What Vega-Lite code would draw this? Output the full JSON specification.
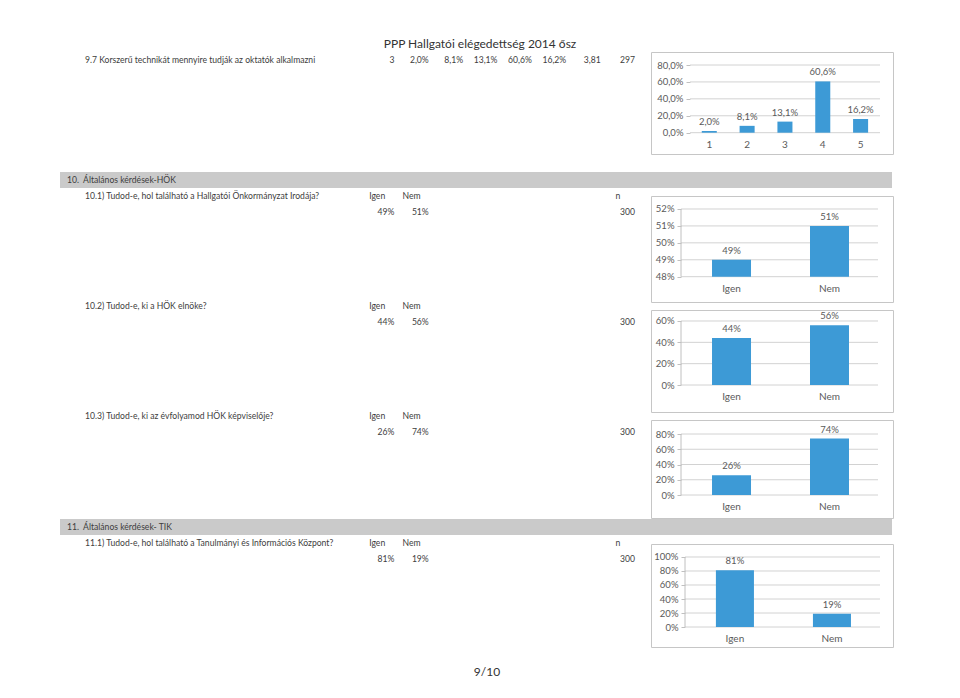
{
"$schema": "https://vega.github.io/schema/vega-lite/v6.json",
"background": "white",
"padding": {"left": 60, "top": 0, "right": 0, "bottom": 0},
"spacing": 0,
"resolve": {"scale": {"x": "independent", "y": "independent"}},
"config": {
  "view": {"stroke": null},
  "text": {"font": "Lato", "fontSize": 8.6, "color": "#3d3d3d"},
  "axis": {"labelFont": "Lato", "labelFontSize": 9.5, "labelColor": "#5a5a5a", "titleFont": "Lato"},
  "locale": {"number": {"decimal": ",", "thousands": "\u00a0", "grouping": [3], "currency": ["", "\u00a0Ft"]}}
},
"vconcat": [
  {"width": 832, "height": 51, "view": {"stroke": null},
   "data": {"values": [{"label": "PPP Hallgatói elégedettség 2014 ősz"}]},
   "mark": {"type": "text", "fontSize": 12, "color": "#333333", "dx": 4, "dy": 18.5},
   "encoding": {"text": {"field": "label"}}},
  {"hconcat": [
    {"width": 590, "height": 32, "view": {"stroke": null},
     "layer": [
      {"data": {"values": [{"line": "top", "col": "k0", "text": "9.7 Korszerű technikát mennyire tudják az oktatók alkalmazni"}]},
       "mark": {"type": "text", "align": "left"},
       "encoding": {
        "x": {"field": "col", "type": "nominal", "bandPosition": 0, "scale": {"type": "band", "domain": ["k0","k1","k2","k3","k4","k5","k6","k7","k8","k9","k10","k11","k12","k13","k14","k15"], "paddingInner": 0, "paddingOuter": 0.582, "align": 0.625}, "axis": null},
        "y": {"field": "line", "type": "nominal", "scale": {"type": "point", "domain": ["top", "bottom"], "padding": 0.5}, "axis": null},
        "text": {"field": "text"}}},
      {"data": {"values": [
        {"line": "top", "col": "k8", "text": "3"},
        {"line": "top", "col": "k9", "text": "2,0%"},
        {"line": "top", "col": "k10", "text": "8,1%"},
        {"line": "top", "col": "k11", "text": "13,1%"},
        {"line": "top", "col": "k12", "text": "60,6%"},
        {"line": "top", "col": "k13", "text": "16,2%"},
        {"line": "top", "col": "k14", "text": "3,81"},
        {"line": "top", "col": "k15", "text": "297"}]},
       "mark": {"type": "text", "align": "right"},
       "encoding": {
        "x": {"field": "col", "type": "nominal", "bandPosition": 1, "scale": {"type": "band", "domain": ["k0","k1","k2","k3","k4","k5","k6","k7","k8","k9","k10","k11","k12","k13","k14","k15"], "paddingInner": 0, "paddingOuter": 0.582, "align": 0.625}, "axis": null},
        "y": {"field": "line", "type": "nominal", "scale": {"type": "point", "domain": ["top", "bottom"], "padding": 0.5}, "axis": null},
        "text": {"field": "text"}}}
     ]},
    {"width": 242, "height": 102, "view": {"stroke": "#c6c6c6"},
     "resolve": {"scale": {"x": "independent"}},
     "layer": [
      {"data": {"values": [{"tick": 0}, {"tick": 0.2}, {"tick": 0.4}, {"tick": 0.6}, {"tick": 0.8}]},
       "mark": {"type": "rule", "color": "#d2d2d2"},
       "encoding": {
        "y": {"field": "tick", "type": "quantitative", "scale": {"domain": [-0.2518, 0.9537], "nice": false, "zero": false},
              "axis": {"values": [0, 0.2, 0.4, 0.6, 0.8], "format": ".1%", "offset": -39, "domain": false, "grid": false, "ticks": true, "tickSize": 4, "tickColor": "#c0c0c0", "labelPadding": 3, "title": null}},
        "x": {"datum": 0, "type": "quantitative", "scale": {"domain": [-0.2053, 1.0684], "nice": false, "zero": false}, "axis": null},
        "x2": {"datum": 1}}},
      {"data": {"values": [{"rating": "1", "share": 0.02}, {"rating": "2", "share": 0.081}, {"rating": "3", "share": 0.131}, {"rating": "4", "share": 0.606}, {"rating": "5", "share": 0.162}]},
       "mark": {"type": "bar", "color": "#3d9ad6"},
       "encoding": {
        "x": {"field": "rating", "type": "nominal", "scale": {"type": "band", "paddingInner": 0.6026, "paddingOuter": 1, "align": 0.671},
              "axis": {"orient": "bottom", "offset": -21, "domain": false, "ticks": false, "tickSize": 0, "labelPadding": 6, "labelAngle": 0, "labelFontSize": 10, "title": null}},
        "y": {"field": "share", "type": "quantitative", "scale": {"domain": [-0.2518, 0.9537], "nice": false, "zero": false},
              "axis": {"values": [0, 0.2, 0.4, 0.6, 0.8], "format": ".1%", "offset": -39, "domain": false, "grid": false, "ticks": true, "tickSize": 4, "tickColor": "#c0c0c0", "labelPadding": 3, "title": null}},
        "y2": {"datum": 0}}},
      {"data": {"values": [{"rating": "1", "share": 0.02}, {"rating": "2", "share": 0.081}, {"rating": "3", "share": 0.131}, {"rating": "4", "share": 0.606}, {"rating": "5", "share": 0.162}]},
       "mark": {"type": "text", "baseline": "bottom", "dy": -4, "fontSize": 9.5, "color": "#5a5a5a"},
       "encoding": {
        "x": {"field": "rating", "type": "nominal", "scale": {"type": "band", "paddingInner": 0.6026, "paddingOuter": 1, "align": 0.671}, "axis": null},
        "y": {"field": "share", "type": "quantitative", "scale": {"domain": [-0.2518, 0.9537], "nice": false, "zero": false},
              "axis": {"values": [0, 0.2, 0.4, 0.6, 0.8], "format": ".1%", "offset": -39, "domain": false, "grid": false, "ticks": true, "tickSize": 4, "tickColor": "#c0c0c0", "labelPadding": 3, "title": null}},
        "text": {"field": "share", "type": "quantitative", "format": ".1%"}}}
     ]}
   ], "spacing": 0, "resolve": {"scale": {"x": "independent", "y": "independent"}}},
  {"width": 832, "height": 17, "view": {"stroke": null}, "data": {"values": []}, "mark": "point"},
  {"width": 832, "height": 16, "view": {"fill": "#cacaca", "stroke": null},
   "data": {"values": [{"col": "k0", "text": "10.\u00a0\u00a0Általános kérdések-HÖK"}]},
   "mark": {"type": "text", "align": "left", "dx": 7},
   "encoding": {
    "x": {"field": "col", "type": "nominal", "bandPosition": 0, "scale": {"type": "band", "domain": ["k0"], "paddingInner": 0, "paddingOuter": 0}, "axis": null},
    "text": {"field": "text"}}},
  {"hconcat": [
    {"vconcat": [
      {"width": 590, "height": 32, "view": {"stroke": null},
       "layer": [
        {"data": {"values": [{"line": "top", "col": "k0", "text": "10.1) Tudod-e, hol található a Hallgatói Önkormányzat Irodája?"}]},
         "mark": {"type": "text", "align": "left"},
         "encoding": {
          "x": {"field": "col", "type": "nominal", "bandPosition": 0, "scale": {"type": "band", "domain": ["k0","k1","k2","k3","k4","k5","k6","k7","k8","k9","k10","k11","k12","k13","k14","k15"], "paddingInner": 0, "paddingOuter": 0.582, "align": 0.625}, "axis": null},
          "y": {"field": "line", "type": "nominal", "scale": {"type": "point", "domain": ["top", "bottom"], "padding": 0.5}, "axis": null},
          "text": {"field": "text"}}},
        {"data": {"values": [{"line": "top", "col": "k8", "text": "Igen"}, {"line": "top", "col": "k9", "text": "Nem"}, {"line": "top", "col": "k15", "text": "n"}]},
         "mark": {"type": "text", "align": "center"},
         "encoding": {
          "x": {"field": "col", "type": "nominal", "bandPosition": 0.5, "scale": {"type": "band", "domain": ["k0","k1","k2","k3","k4","k5","k6","k7","k8","k9","k10","k11","k12","k13","k14","k15"], "paddingInner": 0, "paddingOuter": 0.582, "align": 0.625}, "axis": null},
          "y": {"field": "line", "type": "nominal", "scale": {"type": "point", "domain": ["top", "bottom"], "padding": 0.5}, "axis": null},
          "text": {"field": "text"}}},
        {"data": {"values": [{"line": "bottom", "col": "k8", "text": "49%"}, {"line": "bottom", "col": "k9", "text": "51%"}, {"line": "bottom", "col": "k15", "text": "300"}]},
         "mark": {"type": "text", "align": "right"},
         "encoding": {
          "x": {"field": "col", "type": "nominal", "bandPosition": 1, "scale": {"type": "band", "domain": ["k0","k1","k2","k3","k4","k5","k6","k7","k8","k9","k10","k11","k12","k13","k14","k15"], "paddingInner": 0, "paddingOuter": 0.582, "align": 0.625}, "axis": null},
          "y": {"field": "line", "type": "nominal", "scale": {"type": "point", "domain": ["top", "bottom"], "padding": 0.5}, "axis": null},
          "text": {"field": "text"}}}
       ]},
      {"width": 590, "height": 32, "view": {"stroke": null},
       "layer": [
        {"data": {"values": [{"line": "top", "col": "k0", "text": "10.2) Tudod-e, ki a HÖK elnöke?"}]},
         "mark": {"type": "text", "align": "left"},
         "encoding": {
          "x": {"field": "col", "type": "nominal", "bandPosition": 0, "scale": {"type": "band", "domain": ["k0","k1","k2","k3","k4","k5","k6","k7","k8","k9","k10","k11","k12","k13","k14","k15"], "paddingInner": 0, "paddingOuter": 0.582, "align": 0.625}, "axis": null},
          "y": {"field": "line", "type": "nominal", "scale": {"type": "point", "domain": ["top", "bottom"], "padding": 0.5}, "axis": null},
          "text": {"field": "text"}}},
        {"data": {"values": [{"line": "top", "col": "k8", "text": "Igen"}, {"line": "top", "col": "k9", "text": "Nem"}]},
         "mark": {"type": "text", "align": "center"},
         "encoding": {
          "x": {"field": "col", "type": "nominal", "bandPosition": 0.5, "scale": {"type": "band", "domain": ["k0","k1","k2","k3","k4","k5","k6","k7","k8","k9","k10","k11","k12","k13","k14","k15"], "paddingInner": 0, "paddingOuter": 0.582, "align": 0.625}, "axis": null},
          "y": {"field": "line", "type": "nominal", "scale": {"type": "point", "domain": ["top", "bottom"], "padding": 0.5}, "axis": null},
          "text": {"field": "text"}}},
        {"data": {"values": [{"line": "bottom", "col": "k8", "text": "44%"}, {"line": "bottom", "col": "k9", "text": "56%"}, {"line": "bottom", "col": "k15", "text": "300"}]},
         "mark": {"type": "text", "align": "right"},
         "encoding": {
          "x": {"field": "col", "type": "nominal", "bandPosition": 1, "scale": {"type": "band", "domain": ["k0","k1","k2","k3","k4","k5","k6","k7","k8","k9","k10","k11","k12","k13","k14","k15"], "paddingInner": 0, "paddingOuter": 0.582, "align": 0.625}, "axis": null},
          "y": {"field": "line", "type": "nominal", "scale": {"type": "point", "domain": ["top", "bottom"], "padding": 0.5}, "axis": null},
          "text": {"field": "text"}}}
       ]},
      {"width": 590, "height": 32, "view": {"stroke": null},
       "layer": [
        {"data": {"values": [{"line": "top", "col": "k0", "text": "10.3) Tudod-e, ki az évfolyamod HÖK képviselője?"}]},
         "mark": {"type": "text", "align": "left"},
         "encoding": {
          "x": {"field": "col", "type": "nominal", "bandPosition": 0, "scale": {"type": "band", "domain": ["k0","k1","k2","k3","k4","k5","k6","k7","k8","k9","k10","k11","k12","k13","k14","k15"], "paddingInner": 0, "paddingOuter": 0.582, "align": 0.625}, "axis": null},
          "y": {"field": "line", "type": "nominal", "scale": {"type": "point", "domain": ["top", "bottom"], "padding": 0.5}, "axis": null},
          "text": {"field": "text"}}},
        {"data": {"values": [{"line": "top", "col": "k8", "text": "Igen"}, {"line": "top", "col": "k9", "text": "Nem"}]},
         "mark": {"type": "text", "align": "center"},
         "encoding": {
          "x": {"field": "col", "type": "nominal", "bandPosition": 0.5, "scale": {"type": "band", "domain": ["k0","k1","k2","k3","k4","k5","k6","k7","k8","k9","k10","k11","k12","k13","k14","k15"], "paddingInner": 0, "paddingOuter": 0.582, "align": 0.625}, "axis": null},
          "y": {"field": "line", "type": "nominal", "scale": {"type": "point", "domain": ["top", "bottom"], "padding": 0.5}, "axis": null},
          "text": {"field": "text"}}},
        {"data": {"values": [{"line": "bottom", "col": "k8", "text": "26%"}, {"line": "bottom", "col": "k9", "text": "74%"}, {"line": "bottom", "col": "k15", "text": "300"}]},
         "mark": {"type": "text", "align": "right"},
         "encoding": {
          "x": {"field": "col", "type": "nominal", "bandPosition": 1, "scale": {"type": "band", "domain": ["k0","k1","k2","k3","k4","k5","k6","k7","k8","k9","k10","k11","k12","k13","k14","k15"], "paddingInner": 0, "paddingOuter": 0.582, "align": 0.625}, "axis": null},
          "y": {"field": "line", "type": "nominal", "scale": {"type": "point", "domain": ["top", "bottom"], "padding": 0.5}, "axis": null},
          "text": {"field": "text"}}}
       ]}
     ], "spacing": 78, "resolve": {"scale": {"x": "independent", "y": "independent"}}},
    {"vconcat": [
      {"width": 242, "height": 1, "view": {"stroke": null}, "data": {"values": []}, "mark": "point"},
      {"width": 242, "height": 106, "view": {"stroke": "#c6c6c6"},
       "resolve": {"scale": {"x": "independent"}},
       "layer": [
        {"data": {"values": [{"tick": 0.48}, {"tick": 0.49}, {"tick": 0.5}, {"tick": 0.51}, {"tick": 0.52}]},
         "mark": {"type": "rule", "color": "#d2d2d2"},
         "encoding": {
          "y": {"field": "tick", "type": "quantitative", "scale": {"domain": [0.46505, 0.52768], "nice": false, "zero": false},
                "axis": {"values": [0.48, 0.49, 0.5, 0.51, 0.52], "format": ".0%", "offset": -30, "domain": false, "grid": false, "ticks": true, "tickSize": 4, "tickColor": "#c0c0c0", "labelPadding": 3, "title": null}},
          "x": {"datum": 0, "type": "quantitative", "scale": {"domain": [-0.1523, 1.0761], "nice": false, "zero": false}, "axis": null},
          "x2": {"datum": 1}}},
        {"data": {"values": [{}]},
         "mark": {"type": "rule", "color": "#c0c0c0"},
         "encoding": {
          "x": {"datum": 0, "type": "quantitative", "scale": {"domain": [-0.1523, 1.0761], "nice": false, "zero": false}, "axis": null},
          "y": {"datum": 0.48, "type": "quantitative", "scale": {"domain": [0.46505, 0.52768], "nice": false, "zero": false},
                "axis": {"values": [0.48, 0.49, 0.5, 0.51, 0.52], "format": ".0%", "offset": -30, "domain": false, "grid": false, "ticks": true, "tickSize": 4, "tickColor": "#c0c0c0", "labelPadding": 3, "title": null}},
          "y2": {"datum": 0.52}}},
        {"data": {"values": [{"answer": "Igen", "share": 0.49}, {"answer": "Nem", "share": 0.51}]},
         "mark": {"type": "bar", "color": "#3d9ad6"},
         "encoding": {
          "x": {"field": "answer", "type": "nominal", "scale": {"type": "band", "paddingInner": 0.602, "paddingOuter": 0.536, "align": 0.581},
                "axis": {"orient": "bottom", "offset": -25, "domain": false, "ticks": false, "tickSize": 0, "labelPadding": 6, "labelAngle": 0, "labelFontSize": 10, "title": null}},
          "y": {"field": "share", "type": "quantitative", "scale": {"domain": [0.46505, 0.52768], "nice": false, "zero": false},
                "axis": {"values": [0.48, 0.49, 0.5, 0.51, 0.52], "format": ".0%", "offset": -30, "domain": false, "grid": false, "ticks": true, "tickSize": 4, "tickColor": "#c0c0c0", "labelPadding": 3, "title": null}},
          "y2": {"datum": 0.48}}},
        {"data": {"values": [{"answer": "Igen", "share": 0.49}, {"answer": "Nem", "share": 0.51}]},
         "mark": {"type": "text", "baseline": "bottom", "dy": -4, "fontSize": 9.5, "color": "#5a5a5a"},
         "encoding": {
          "x": {"field": "answer", "type": "nominal", "scale": {"type": "band", "paddingInner": 0.602, "paddingOuter": 0.536, "align": 0.581}, "axis": null},
          "y": {"field": "share", "type": "quantitative", "scale": {"domain": [0.46505, 0.52768], "nice": false, "zero": false},
                "axis": {"values": [0.48, 0.49, 0.5, 0.51, 0.52], "format": ".0%", "offset": -30, "domain": false, "grid": false, "ticks": true, "tickSize": 4, "tickColor": "#c0c0c0", "labelPadding": 3, "title": null}},
          "text": {"field": "share", "type": "quantitative", "format": ".0%"}}}
       ]},
      {"width": 242, "height": 102, "view": {"stroke": "#c6c6c6"},
       "resolve": {"scale": {"x": "independent"}},
       "layer": [
        {"data": {"values": [{"tick": 0}, {"tick": 0.2}, {"tick": 0.4}, {"tick": 0.6}]},
         "mark": {"type": "rule", "color": "#d2d2d2"},
         "encoding": {
          "y": {"field": "tick", "type": "quantitative", "scale": {"domain": [-0.2531, 0.7031], "nice": false, "zero": false},
                "axis": {"values": [0, 0.2, 0.4, 0.6], "format": ".0%", "offset": -30, "domain": false, "grid": false, "ticks": true, "tickSize": 4, "tickColor": "#c0c0c0", "labelPadding": 3, "title": null}},
          "x": {"datum": 0, "type": "quantitative", "scale": {"domain": [-0.1523, 1.0761], "nice": false, "zero": false}, "axis": null},
          "x2": {"datum": 1}}},
        {"data": {"values": [{}]},
         "mark": {"type": "rule", "color": "#c0c0c0"},
         "encoding": {
          "x": {"datum": 0, "type": "quantitative", "scale": {"domain": [-0.1523, 1.0761], "nice": false, "zero": false}, "axis": null},
          "y": {"datum": 0, "type": "quantitative", "scale": {"domain": [-0.2531, 0.7031], "nice": false, "zero": false},
                "axis": {"values": [0, 0.2, 0.4, 0.6], "format": ".0%", "offset": -30, "domain": false, "grid": false, "ticks": true, "tickSize": 4, "tickColor": "#c0c0c0", "labelPadding": 3, "title": null}},
          "y2": {"datum": 0.6}}},
        {"data": {"values": [{"answer": "Igen", "share": 0.44}, {"answer": "Nem", "share": 0.56}]},
         "mark": {"type": "bar", "color": "#3d9ad6"},
         "encoding": {
          "x": {"field": "answer", "type": "nominal", "scale": {"type": "band", "paddingInner": 0.602, "paddingOuter": 0.536, "align": 0.581},
                "axis": {"orient": "bottom", "offset": -27, "domain": false, "ticks": false, "tickSize": 0, "labelPadding": 6, "labelAngle": 0, "labelFontSize": 10, "title": null}},
          "y": {"field": "share", "type": "quantitative", "scale": {"domain": [-0.2531, 0.7031], "nice": false, "zero": false},
                "axis": {"values": [0, 0.2, 0.4, 0.6], "format": ".0%", "offset": -30, "domain": false, "grid": false, "ticks": true, "tickSize": 4, "tickColor": "#c0c0c0", "labelPadding": 3, "title": null}},
          "y2": {"datum": 0}}},
        {"data": {"values": [{"answer": "Igen", "share": 0.44}, {"answer": "Nem", "share": 0.56}]},
         "mark": {"type": "text", "baseline": "bottom", "dy": -4, "fontSize": 9.5, "color": "#5a5a5a"},
         "encoding": {
          "x": {"field": "answer", "type": "nominal", "scale": {"type": "band", "paddingInner": 0.602, "paddingOuter": 0.536, "align": 0.581}, "axis": null},
          "y": {"field": "share", "type": "quantitative", "scale": {"domain": [-0.2531, 0.7031], "nice": false, "zero": false},
                "axis": {"values": [0, 0.2, 0.4, 0.6], "format": ".0%", "offset": -30, "domain": false, "grid": false, "ticks": true, "tickSize": 4, "tickColor": "#c0c0c0", "labelPadding": 3, "title": null}},
          "text": {"field": "share", "type": "quantitative", "format": ".0%"}}}
       ]},
      {"width": 242, "height": 98, "view": {"stroke": "#c6c6c6"},
       "resolve": {"scale": {"x": "independent"}},
       "layer": [
        {"data": {"values": [{"tick": 0}, {"tick": 0.2}, {"tick": 0.4}, {"tick": 0.6}, {"tick": 0.8}]},
         "mark": {"type": "rule", "color": "#d2d2d2"},
         "encoding": {
          "y": {"field": "tick", "type": "quantitative", "scale": {"domain": [-0.3016, 0.9836], "nice": false, "zero": false},
                "axis": {"values": [0, 0.2, 0.4, 0.6, 0.8], "format": ".0%", "offset": -30, "domain": false, "grid": false, "ticks": true, "tickSize": 4, "tickColor": "#c0c0c0", "labelPadding": 3, "title": null}},
          "x": {"datum": 0, "type": "quantitative", "scale": {"domain": [-0.1523, 1.0761], "nice": false, "zero": false}, "axis": null},
          "x2": {"datum": 1}}},
        {"data": {"values": [{}]},
         "mark": {"type": "rule", "color": "#c0c0c0"},
         "encoding": {
          "x": {"datum": 0, "type": "quantitative", "scale": {"domain": [-0.1523, 1.0761], "nice": false, "zero": false}, "axis": null},
          "y": {"datum": 0, "type": "quantitative", "scale": {"domain": [-0.3016, 0.9836], "nice": false, "zero": false},
                "axis": {"values": [0, 0.2, 0.4, 0.6, 0.8], "format": ".0%", "offset": -30, "domain": false, "grid": false, "ticks": true, "tickSize": 4, "tickColor": "#c0c0c0", "labelPadding": 3, "title": null}},
          "y2": {"datum": 0.8}}},
        {"data": {"values": [{"answer": "Igen", "share": 0.26}, {"answer": "Nem", "share": 0.74}]},
         "mark": {"type": "bar", "color": "#3d9ad6"},
         "encoding": {
          "x": {"field": "answer", "type": "nominal", "scale": {"type": "band", "paddingInner": 0.602, "paddingOuter": 0.536, "align": 0.581},
                "axis": {"orient": "bottom", "offset": -23, "domain": false, "ticks": false, "tickSize": 0, "labelPadding": 6, "labelAngle": 0, "labelFontSize": 10, "title": null}},
          "y": {"field": "share", "type": "quantitative", "scale": {"domain": [-0.3016, 0.9836], "nice": false, "zero": false},
                "axis": {"values": [0, 0.2, 0.4, 0.6, 0.8], "format": ".0%", "offset": -30, "domain": false, "grid": false, "ticks": true, "tickSize": 4, "tickColor": "#c0c0c0", "labelPadding": 3, "title": null}},
          "y2": {"datum": 0}}},
        {"data": {"values": [{"answer": "Igen", "share": 0.26}, {"answer": "Nem", "share": 0.74}]},
         "mark": {"type": "text", "baseline": "bottom", "dy": -4, "fontSize": 9.5, "color": "#5a5a5a"},
         "encoding": {
          "x": {"field": "answer", "type": "nominal", "scale": {"type": "band", "paddingInner": 0.602, "paddingOuter": 0.536, "align": 0.581}, "axis": null},
          "y": {"field": "share", "type": "quantitative", "scale": {"domain": [-0.3016, 0.9836], "nice": false, "zero": false},
                "axis": {"values": [0, 0.2, 0.4, 0.6, 0.8], "format": ".0%", "offset": -30, "domain": false, "grid": false, "ticks": true, "tickSize": 4, "tickColor": "#c0c0c0", "labelPadding": 3, "title": null}},
          "text": {"field": "share", "type": "quantitative", "format": ".0%"}}}
       ]}
     ], "spacing": 6, "resolve": {"scale": {"x": "independent", "y": "independent"}}}
   ], "spacing": 0, "resolve": {"scale": {"x": "independent", "y": "independent"}}},
  {"width": 832, "height": 16, "view": {"fill": "#cacaca", "stroke": null},
   "data": {"values": [{"col": "k0", "text": "11.\u00a0\u00a0Általános kérdések- TIK"}]},
   "mark": {"type": "text", "align": "left", "dx": 7},
   "encoding": {
    "x": {"field": "col", "type": "nominal", "bandPosition": 0, "scale": {"type": "band", "domain": ["k0"], "paddingInner": 0, "paddingOuter": 0}, "axis": null},
    "text": {"field": "text"}}},
  {"hconcat": [
    {"width": 590, "height": 32, "view": {"stroke": null},
     "layer": [
      {"data": {"values": [{"line": "top", "col": "k0", "text": "11.1) Tudod-e, hol található a Tanulmányi és Információs Központ?"}]},
       "mark": {"type": "text", "align": "left"},
       "encoding": {
        "x": {"field": "col", "type": "nominal", "bandPosition": 0, "scale": {"type": "band", "domain": ["k0","k1","k2","k3","k4","k5","k6","k7","k8","k9","k10","k11","k12","k13","k14","k15"], "paddingInner": 0, "paddingOuter": 0.582, "align": 0.625}, "axis": null},
        "y": {"field": "line", "type": "nominal", "scale": {"type": "point", "domain": ["top", "bottom"], "padding": 0.5}, "axis": null},
        "text": {"field": "text"}}},
      {"data": {"values": [{"line": "top", "col": "k8", "text": "Igen"}, {"line": "top", "col": "k9", "text": "Nem"}, {"line": "top", "col": "k15", "text": "n"}]},
       "mark": {"type": "text", "align": "center"},
       "encoding": {
        "x": {"field": "col", "type": "nominal", "bandPosition": 0.5, "scale": {"type": "band", "domain": ["k0","k1","k2","k3","k4","k5","k6","k7","k8","k9","k10","k11","k12","k13","k14","k15"], "paddingInner": 0, "paddingOuter": 0.582, "align": 0.625}, "axis": null},
        "y": {"field": "line", "type": "nominal", "scale": {"type": "point", "domain": ["top", "bottom"], "padding": 0.5}, "axis": null},
        "text": {"field": "text"}}},
      {"data": {"values": [{"line": "bottom", "col": "k8", "text": "81%"}, {"line": "bottom", "col": "k9", "text": "19%"}, {"line": "bottom", "col": "k15", "text": "300"}]},
       "mark": {"type": "text", "align": "right"},
       "encoding": {
        "x": {"field": "col", "type": "nominal", "bandPosition": 1, "scale": {"type": "band", "domain": ["k0","k1","k2","k3","k4","k5","k6","k7","k8","k9","k10","k11","k12","k13","k14","k15"], "paddingInner": 0, "paddingOuter": 0.582, "align": 0.625}, "axis": null},
        "y": {"field": "line", "type": "nominal", "scale": {"type": "point", "domain": ["top", "bottom"], "padding": 0.5}, "axis": null},
        "text": {"field": "text"}}}
     ]},
    {"vconcat": [
      {"width": 242, "height": 1, "view": {"stroke": null}, "data": {"values": []}, "mark": "point"},
      {"width": 242, "height": 103, "view": {"stroke": "#c6c6c6"},
       "resolve": {"scale": {"x": "independent"}},
       "layer": [
        {"data": {"values": [{"tick": 0}, {"tick": 0.2}, {"tick": 0.4}, {"tick": 0.6}, {"tick": 0.8}, {"tick": 1}]},
         "mark": {"type": "rule", "color": "#d2d2d2"},
         "encoding": {
          "y": {"field": "tick", "type": "quantitative", "scale": {"domain": [-0.2857, 1.1857], "nice": false, "zero": false},
                "axis": {"values": [0, 0.2, 0.4, 0.6, 0.8, 1], "format": ".0%", "offset": -34, "domain": false, "grid": false, "ticks": true, "tickSize": 4, "tickColor": "#c0c0c0", "labelPadding": 3, "title": null}},
          "x": {"datum": 0, "type": "quantitative", "scale": {"domain": [-0.1744, 1.0667], "nice": false, "zero": false}, "axis": null},
          "x2": {"datum": 1}}},
        {"data": {"values": [{}]},
         "mark": {"type": "rule", "color": "#c0c0c0"},
         "encoding": {
          "x": {"datum": 0, "type": "quantitative", "scale": {"domain": [-0.1744, 1.0667], "nice": false, "zero": false}, "axis": null},
          "y": {"datum": 0, "type": "quantitative", "scale": {"domain": [-0.2857, 1.1857], "nice": false, "zero": false},
                "axis": {"values": [0, 0.2, 0.4, 0.6, 0.8, 1], "format": ".0%", "offset": -34, "domain": false, "grid": false, "ticks": true, "tickSize": 4, "tickColor": "#c0c0c0", "labelPadding": 3, "title": null}},
          "y2": {"datum": 1}}},
        {"data": {"values": [{"answer": "Igen", "share": 0.81}, {"answer": "Nem", "share": 0.19}]},
         "mark": {"type": "bar", "color": "#3d9ad6"},
         "encoding": {
          "x": {"field": "answer", "type": "nominal", "scale": {"type": "band", "paddingInner": 0.608, "paddingOuter": 0.551, "align": 0.607},
                "axis": {"orient": "bottom", "offset": -20, "domain": false, "ticks": false, "tickSize": 0, "labelPadding": 6, "labelAngle": 0, "labelFontSize": 10, "title": null}},
          "y": {"field": "share", "type": "quantitative", "scale": {"domain": [-0.2857, 1.1857], "nice": false, "zero": false},
                "axis": {"values": [0, 0.2, 0.4, 0.6, 0.8, 1], "format": ".0%", "offset": -34, "domain": false, "grid": false, "ticks": true, "tickSize": 4, "tickColor": "#c0c0c0", "labelPadding": 3, "title": null}},
          "y2": {"datum": 0}}},
        {"data": {"values": [{"answer": "Igen", "share": 0.81}, {"answer": "Nem", "share": 0.19}]},
         "mark": {"type": "text", "baseline": "bottom", "dy": -4, "fontSize": 9.5, "color": "#5a5a5a"},
         "encoding": {
          "x": {"field": "answer", "type": "nominal", "scale": {"type": "band", "paddingInner": 0.608, "paddingOuter": 0.551, "align": 0.607}, "axis": null},
          "y": {"field": "share", "type": "quantitative", "scale": {"domain": [-0.2857, 1.1857], "nice": false, "zero": false},
                "axis": {"values": [0, 0.2, 0.4, 0.6, 0.8, 1], "format": ".0%", "offset": -34, "domain": false, "grid": false, "ticks": true, "tickSize": 4, "tickColor": "#c0c0c0", "labelPadding": 3, "title": null}},
          "text": {"field": "share", "type": "quantitative", "format": ".0%"}}}
       ]}
     ], "spacing": 7, "resolve": {"scale": {"x": "independent", "y": "independent"}}}
   ], "spacing": 0, "resolve": {"scale": {"x": "independent", "y": "independent"}}},
  {"width": 832, "height": 48, "view": {"stroke": null},
   "data": {"values": [{"label": "9/10"}]},
   "mark": {"type": "text", "fontSize": 12, "color": "#333333", "dx": 11},
   "encoding": {"text": {"field": "label"}}}
]
}
